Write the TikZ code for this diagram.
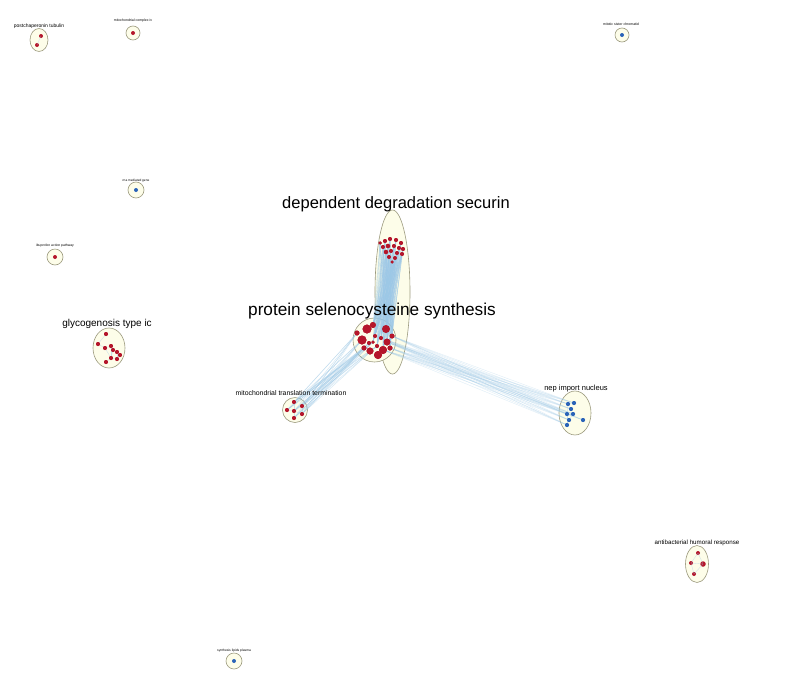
\documentclass[tikz,border=0pt]{standalone}
\usepackage{fontspec}
\setmainfont{Liberation Sans}
\usetikzlibrary{shapes.geometric}
\definecolor{grpfill}{HTML}{FDFDE9}
\definecolor{grpline}{HTML}{9C9A7E}
\definecolor{dred}{HTML}{B5162B}
\definecolor{dblue}{HTML}{2A63B8}
\definecolor{edgec}{HTML}{9CC8E6}
\tikzset{
  grp/.style={draw=grpline, fill=grpfill, line width=0.6pt, ellipse, inner sep=0pt},
  rdot/.style={circle, fill=dred, inner sep=0pt, minimum size=#1},
  rdot/.default=4pt,
  bdot/.style={circle, fill=dblue, inner sep=0pt, minimum size=#1},
  bdot/.default=4pt,
  edge/.style={draw=edgec, line width=0.35pt, opacity=0.5},
  lbl/.style={inner sep=0pt, text=black, font=#1},
}
\begin{document}
\begin{tikzpicture}[x=1pt,y=-1pt]
\fill[white] (0,0) rectangle (789,683);
\useasboundingbox (0,0) rectangle (789,683);

% ---------- group ellipses ----------
\node[grp, minimum width=35pt, minimum height=164pt] (gsec) at (392.5,292) {};
\node[grp, minimum width=43pt, minimum height=44pt] (gsel) at (374.5,340) {};
\node[grp, minimum width=18pt, minimum height=23pt] (gpost) at (39,40) {};
\node[grp, minimum width=14pt, minimum height=14pt] (gmci) at (133,33) {};
\node[grp, minimum width=14pt, minimum height=14pt] (gmsc) at (622,35) {};
\node[grp, minimum width=16pt, minimum height=16pt] (grna) at (136,190) {};
\node[grp, minimum width=16pt, minimum height=16pt] (gibu) at (55,257) {};
\node[grp, minimum width=32pt, minimum height=40pt] (ggly) at (109,348) {};
\node[grp, minimum width=25pt, minimum height=25pt] (gmtt) at (295,410) {};
\node[grp, minimum width=32pt, minimum height=44pt] (gnep) at (575,413) {};
\node[grp, minimum width=23pt, minimum height=37pt] (gabh) at (697,564) {};
\node[grp, minimum width=16pt, minimum height=16pt] (gsyn) at (234,661) {};

% ---------- dots (named) ----------
\foreach \n/\x/\y/\s in {1/385/241/4, 2/390/239/4, 3/396/240/4, 4/401/243/4, 5/383/247/4,
  6/388/246/4.5, 7/394/246/4, 8/399/248/4, 9/403/249/4, 10/386/252/4.5, 11/391/251/4,
  12/397/253/4, 13/402/254/4, 14/389/257/4, 15/395/258/4, 16/392/262/3.5, 17/380/243/3.5}
  \node[rdot=\s pt] (t\n) at (\x,\y) {};
\foreach \n/\x/\y/\s in {1/367/329/9, 2/373/325/6, 3/386/329/8, 4/362/340/9, 5/369/343/4,
  6/375/336/4, 7/381/338/4, 8/387/342/7, 9/377/346/4, 10/370/351/7, 11/383/350/8,
  12/364/348/5, 13/378/355/8, 14/390/348/5, 15/373/342/3.5, 16/357/333/5, 17/392/336/5}
  \node[rdot=\s pt] (b\n) at (\x,\y) {};
\foreach \n/\x/\y in {1/294/402, 2/287/410, 3/294/411, 4/302/406, 5/302/414, 6/294/418}
  \node[rdot] (m\n) at (\x,\y) {};
\foreach \n/\x/\y in {1/568/404, 2/574/403, 3/567/414, 4/573/414, 5/569/420, 6/583/420, 7/567/425, 8/571/409}
  \node[bdot] (n\n) at (\x,\y) {};
\foreach \n/\x/\y in {1/106/334, 2/98/344, 3/105/348, 4/111/346, 5/113/350, 6/117/352, 7/120/355, 8/117/359, 9/111/358, 10/106/362}
  \node[rdot] (g\n) at (\x,\y) {};
\node[rdot] (a1) at (698,553) {};
\node[rdot] (a2) at (691,563) {};
\node[rdot=5.5pt] (a3) at (703,564) {};
\node[rdot] (a4) at (694,574) {};
\node[rdot] (p1) at (41,36) {};
\node[rdot] (p2) at (37,45) {};
\node[rdot] (s1) at (133,33) {};
\node[bdot] (s2) at (622,35) {};
\node[bdot] (s3) at (136,190) {};
\node[rdot] (s4) at (55,257) {};
\node[bdot] (s5) at (234,661) {};

% ---------- edges ----------
\foreach \i in {1,...,17} \foreach \j in {2,3,6,7,8,9,11,14,15,17}
  \draw[edge] (t\i.center) -- (b\j.center);
\foreach \i in {4,5,9,12,15,16} \foreach \j in {1,...,6}
  \draw[edge] (b\i.center) -- (m\j.center);
\foreach \i in {8,11,14,17,7} \foreach \j in {1,...,8}
  \draw[edge, opacity=0.35] (b\i.center) -- (n\j.center);
\foreach \i/\j in {1/2,2/3,3/4,4/5,5/6,6/7,7/8,8/9,9/10,3/9,5/9,6/8,4/9}
  \draw[edge] (g\i.center) -- (g\j.center);
\foreach \i/\j in {1/2,1/3,2/3,2/4,3/4}
  \draw[edge] (a\i.center) -- (a\j.center);
\foreach \i/\j in {1/3,3/4,4/5,1/2,3/7}
  \draw[edge] (n\i.center) -- (n\j.center);
\foreach \i/\j in {1/3,2/3,3/4,3/5,3/6,4/5}
  \draw[edge] (m\i.center) -- (m\j.center);
\draw[edge] (p1.center) -- (p2.center);

% redraw dots on top of edges (same positions)
\foreach \x/\y/\s in {385/241/4, 390/239/4, 396/240/4, 401/243/4, 383/247/4,
  388/246/4.5, 394/246/4, 399/248/4, 403/249/4, 386/252/4.5, 391/251/4,
  397/253/4, 402/254/4, 389/257/4, 395/258/4, 392/262/3.5, 380/243/3.5}
  \fill[dred] (\x,\y) circle (\s/2);
\foreach \x/\y/\s in {367/329/9, 373/325/6, 386/329/8, 362/340/9, 369/343/4,
  375/336/4, 381/338/4, 387/342/7, 377/346/4, 370/351/7, 383/350/8,
  364/348/5, 378/355/8, 390/348/5, 373/342/3.5, 357/333/5, 392/336/5}
  \fill[dred] (\x,\y) circle (\s/2);
\foreach \x/\y in {294/402, 287/410, 294/411, 302/406, 302/414, 294/418}
  \fill[dred] (\x,\y) circle (2);
\foreach \x/\y in {568/404, 574/403, 567/414, 573/414, 569/420, 583/420, 567/425, 571/409}
  \fill[dblue] (\x,\y) circle (2);
\foreach \x/\y in {106/334, 98/344, 105/348, 111/346, 113/350, 117/352, 120/355, 117/359, 111/358, 106/362}
  \fill[dred] (\x,\y) circle (2);

% ---------- labels (on top) ----------
\node[lbl={\fontsize{16.5}{19}\selectfont}] (lsec) at (396,204) {dependent degradation securin};
\node[lbl={\fontsize{17.2}{20}\selectfont}] (lsel) at (372,311) {protein selenocysteine synthesis};
\node[lbl={\fontsize{10}{12}\selectfont}] (lgly) at (107,324) {glycogenosis type ic};
\node[lbl={\fontsize{7.5}{9}\selectfont}] (lnep) at (576,389) {nep import nucleus};
\node[lbl={\fontsize{6.9}{8}\selectfont}] (lmtt) at (291,393.5) {mitochondrial translation termination};
\node[lbl={\fontsize{6.2}{7}\selectfont}] (labh) at (697,542.5) {antibacterial humoral response};
\node[lbl={\fontsize{5}{6}\selectfont}] (lpost) at (39,26.5) {postchaperonin tubulin};
\node[lbl={\fontsize{3.5}{4}\selectfont}] (lmci) at (133,21) {mitochondrial complex iv};
\node[lbl={\fontsize{3.5}{4}\selectfont}] (lmsc) at (621,24) {mitotic sister chromatid};
\node[lbl={\fontsize{3.2}{4}\selectfont}] (lrna) at (136,181) {rna mediated gene};
\node[lbl={\fontsize{3.4}{4}\selectfont}] (libu) at (55,246) {ibuprofen action pathway};
\node[lbl={\fontsize{3.3}{4}\selectfont}] (lsyn) at (234,651) {synthesis lipids plasma};
\end{tikzpicture}
\end{document}
